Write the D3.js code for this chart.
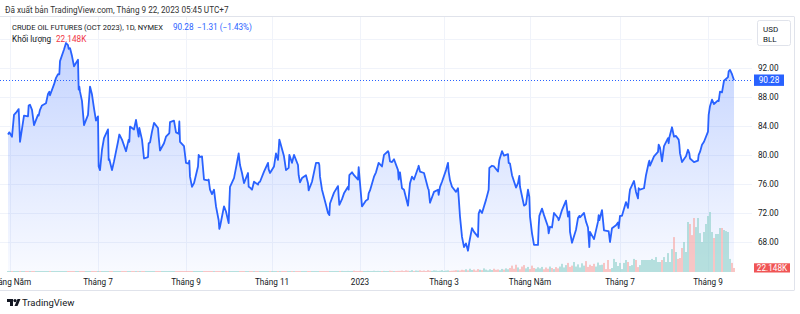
<!DOCTYPE html>
<html>
<head>
<meta charset="utf-8">
<script src="https://cdn.jsdelivr.net/npm/d3@7"></script>
<style>
  html, body { margin: 0; padding: 0; background: #fff; }
  svg { display: block; font-family: Roboto, "Noto Sans", sans-serif; }
</style>
</head>
<body>
<svg id="chart" width="800" height="314"></svg>
<script>
// CRUDE OIL FUTURES (OCT 2023), 1D, NYMEX
const startDay = new Date(2022, 3, 25)
const endDay = new Date(2023, 9, 3)

// days after startDay
const dayOffsets = [4,6,8,9,10,12,13,14,16,18,19,21,22,23,25,26,28,29,31,32,34,35,37,38,39,41,42,44,45,46,47,49,50,51,53,54,55,56,57,58,60,61,63,64,65,66,67,68,70,71,72,74,75,76,78,79,81,82,83,85,87,89,90,91,93,94,96,97,99,100,102,103,105,106,107,109,110,112,114,115,117,118,119,121,122,124,125,126,128,129,131,132,133,134,135,137,138,140,141,142,144,145,147,148,149,150,152,153,154,156,157,159,160,161,163,164,166,168,169,170,172,173,175,176,177,179,180,182,184,186,187,189,191,192,193,195,196,198,199,201,202,204,205,207,208,210,211,213,214,215,217,218,220,222,223,224,225,227,228,230,231,233,235,236,237,239,240,242,243,244,246,247,249,250,252,253,255,256,257,259,261,262,264,265,267,268,270,271,273,274,275,277,278,280,281,282,284,285,287,288,289,291,292,294,296,298,299,301,303,305,306,308,309,311,312,313,315,316,318,319,320,322,323,324,325,326,328,330,331,333,334,336,337,339,341,342,344,345,347,349,351,352,354,355,357,358,360,361,363,364,366,367,368,370,371,372,373,375,376,377,379,380,382,383,385,386,387,389,390,392,393,395,396,398,399,400,402,403,405,406,408,409,410,412,413,415,417,418,419,421,422,424,425,427,428,430,431,432,434,435,437,438,440,441,443,444,445,446,448,450,451,453,454,455,457,459,460,462,463,464,466,467,468,470,471,472,474,475,476,477,479,480,482,483,485,487,488,490,491,492,494,495,497,498,499,501,502,504,505,506,508,509,511,512,513]

const closes = [82.8,83.1,82.5,85.5,85.8,86.3,84.2,81.8,85.4,85.3,86.8,86.9,86.2,84.1,85.5,85.4,86.2,86.8,87.1,88.4,88.7,88.2,89.7,90.6,91.1,91.1,92.9,94.5,95.4,95.1,94.6,94.7,93.6,92.2,93.1,89.0,89.4,88.7,87.4,84.1,85.5,86.9,89.4,88.3,86.4,84.7,85.3,78.4,77.9,80.7,82.3,83.5,79.3,79.4,77.9,79.1,81.8,82.3,82.8,82.1,80.5,82.1,81.8,83.9,83.5,84.8,82.5,83.7,82.1,79.5,79.7,81.6,81.7,83.2,84.4,83.7,82.5,80.6,81.6,82.5,82.9,83.0,84.5,84.7,83.1,82.9,84.6,81.8,81.2,78.9,78.8,79.2,77.0,75.6,76.1,78.4,80.0,79.7,79.8,76.6,76.5,76.6,75.2,74.6,75.2,72.9,71.0,69.8,70.1,72.9,72.2,70.6,73.3,75.6,76.8,78.2,80.2,78.6,77.5,76.1,77.5,75.6,75.5,75.2,76.3,75.9,76.2,76.3,77.7,78.9,78.0,77.5,78.4,80.2,79.3,82.1,81.8,79.8,77.9,78.2,80.0,78.9,80.0,78.6,77.2,76.2,76.8,77.2,76.1,75.1,75.6,76.3,78.9,78.9,78.6,77.0,75.2,73.1,72.0,71.7,73.3,74.8,75.7,74.3,73.1,73.9,74.7,75.6,75.2,77.2,77.6,77.2,76.6,78.3,76.1,72.9,73.7,73.9,74.7,75.1,77.0,77.6,78.9,78.8,78.4,80.0,80.5,80.3,79.1,79.0,79.4,77.9,76.6,77.6,75.4,75.2,73.0,74.0,76.1,77.0,76.6,78.2,78.5,77.7,77.5,75.4,75.2,73.4,74.9,75.2,74.5,75.6,76.3,77.9,78.9,77.7,76.5,75.6,74.9,75.4,74.2,71.5,68.7,67.3,67.8,66.8,68.0,69.9,69.4,68.7,71.9,72.4,72.0,73.8,75.2,78.2,78.5,78.4,77.7,79.3,80.5,79.9,80.1,78.9,78.8,77.2,75.5,76.1,77.1,75.6,73.0,73.2,75.2,74.2,71.5,69.2,67.6,67.6,70.1,71.6,72.6,71.7,70.1,69.2,70.1,70.0,72.0,71.3,71.0,71.5,72.4,73.7,71.5,72.2,69.4,67.9,69.7,71.3,71.6,71.4,72.0,70.8,70.0,67.3,69.4,68.4,70.8,71.7,71.0,72.4,69.6,69.5,69.5,68.0,69.9,70.3,70.7,69.9,71.6,71.6,73.5,72.7,74.5,75.2,76.4,74.9,74.0,75.4,75.2,75.4,77.2,78.9,79.2,78.5,79.8,80.4,81.4,81.0,79.1,81.2,82.3,81.6,82.4,83.8,82.5,82.6,82.1,81.4,80.2,79.0,79.8,80.7,80.2,79.5,79.0,79.2,80.0,80.4,81.4,81.8,83.2,85.5,86.7,87.6,87.0,87.5,87.4,88.7,88.6,90.2,90.7,91.5,91.7,91.1,90.28]

// daily volume in K contracts, one per weekday from volumeStart
const volumeStart = new Date(2022, 3, 29)
const volumes = [
  3,4,2,3,5,3,4,2,3,4,3,5,2,4,3, 4,3,2,5,3,4,3,3,4,2,3,5,4,3,2,
  3,4,3,2,4,5,3,3,4,2,4,3,5,3,4, 2,3,4,3,5,4,2,3,3,4,3,2,4,5,3,
  4,3,3,2,4,3,5,4,3,2,3,4,3,4,2, 3,5,3,4,3,2,4,3,3,5,4,2,3,4,3,
  3,2,4,3,5,3,4,4,2,3,3,4,5,3,4, 2,3,4,3,3,5,2,4,3,4,3,3,4,2,5,
  3,4,3,2,4,3,3,5,4,3,2,4,3,4,3, 5,3,2,4,3,4,3,5,3,4,2,3,4,4,3,
  3,4,5,3,2,4,4,3,5,3,4,3,4,5,4,
  5,4,6,5,3,6,4,5,7,4,5,6,4,5,3,6,5,4,7,5,6,4,5,6,4,5,7,6,5,4,6,
  6,8,5,9,7,6,10,5,8,7,9,6,8,5,10,7,6,9,8,6,7,10,5,8,9,6,7,8,10,9,
  8,12,10,15,9,18,11,14,8,16,12,10,20,13,9,15,11,18,12,14,10,17,13,20,15,
  22,35,18,40,25,15,30,38,20,28,16,35,22,18,26,
  20,28,15,25,18,30,22,16,27,20,
  30,45,25,38,50,28,35,55,30,42,25,48,35,60,28,40,33,45,30,52,38,
  40,50,
  16,66,16,22,72,55,33,50,16,50,66,55,33,38,72,66,27,38,66,66,66,66,66,72,66,82,55,55,66,82,55,
  104,55,126,192,110,72,77,132,165,110,275,264,203,297,247,297,214,165,220,264,308,330,220,187,
  209,209,242,242,231,225,220,72,50,22.148
]

const priceTicks = [68, 72, 76, 80, 84, 88, 92, 96]
const monthLabels = ['Tháng Năm', 'Tháng 7', 'Tháng 9', 'Tháng 11', '2023', 'Tháng 3', 'Tháng Năm', 'Tháng 7', 'Tháng 9']
const lastClose = 90.28
const lastChange = '−1.31 (−1.43%)'
const lastVolume = '22.148K'

const plot = {left: 0, right: 752, top: 17, bottom: 272}
const blue = '#2962ff'

const svg = d3.select('#chart')

// weekday axis, like TradingView (no gaps for weekends)
const tradingDays = d3.timeDay.range(startDay, d3.timeDay.offset(endDay, 1))
	.filter(d => d.getDay() % 6 !== 0)

function tIndex(date) {
	const i = d3.bisectLeft(tradingDays, date)
	if (i < tradingDays.length && +tradingDays[i] === +date) return i
	return i - 1 + d3.timeDay.count(tradingDays[i - 1], date) / 3
}

const x = d3.scaleLinear()
	.domain([0, tradingDays.length - 1])
	.range([plot.left, plot.right])

const y = d3.scaleLinear()
	.domain([68, 92])
	.range([242, 67.7])

const yVol = d3.scaleLinear()
	.domain([0, 440])
	.range([plot.bottom, plot.bottom - 80])

const points = dayOffsets.map((o, k) => ({
	i: tIndex(d3.timeDay.offset(startDay, o)),
	p: closes[k]
}))

// gradient for the area
const grad = svg.append('defs').append('linearGradient')
	.attr('id', 'areaFill')
	.attr('gradientUnits', 'userSpaceOnUse')
	.attr('x1', 0).attr('y1', 40).attr('x2', 0).attr('y2', plot.bottom)
grad.append('stop').attr('offset', 0).attr('stop-color', blue).attr('stop-opacity', 0.28)
grad.append('stop').attr('offset', 1).attr('stop-color', blue).attr('stop-opacity', 0.03)

// grid
const monthStarts = d3.timeMonth.every(2).range(new Date(2022, 4, 1), endDay)
const monthIdx = monthStarts.map(d => d3.bisectLeft(tradingDays, d))

svg.append('g')
	.selectAll('line')
	.data(priceTicks)
	.join('line')
	.attr('x1', plot.left).attr('x2', plot.right)
	.attr('y1', d => Math.round(y(d)) + 0.5).attr('y2', d => Math.round(y(d)) + 0.5)
	.attr('stroke', '#f0f3fa')

svg.append('g')
	.selectAll('line')
	.data(monthIdx)
	.join('line')
	.attr('x1', d => Math.round(x(d)) + 0.5).attr('x2', d => Math.round(x(d)) + 0.5)
	.attr('y1', plot.top).attr('y2', plot.bottom)
	.attr('stroke', '#f0f3fa')

// area + line
svg.append('path')
	.datum(points)
	.attr('d', d3.area().x(d => x(d.i)).y0(plot.bottom).y1(d => y(d.p)))
	.attr('fill', 'url(#areaFill)')

// volume (bars are at least 1px tall, as on TradingView)
const volStartIdx = d3.bisectLeft(tradingDays, volumeStart)
const priceAt = d3.scaleLinear().domain(points.map(d => d.i)).range(points.map(d => d.p)).clamp(true)

svg.append('g')
	.selectAll('rect')
	.data(volumes)
	.join('rect')
	.attr('x', (d, k) => x(volStartIdx + k) - 0.65)
	.attr('width', 1.3)
	.attr('y', d => Math.min(yVol(d), plot.bottom - 1))
	.attr('height', d => Math.max(1, plot.bottom - yVol(d)))
	.attr('fill', (d, k) => {
		const i = volStartIdx + k
		return priceAt(i) >= priceAt(i - 1) ? '#92d2cc' : '#f7a9a7'
	})

svg.append('path')
	.datum(points)
	.attr('d', d3.line().x(d => x(d.i)).y(d => y(d.p)))
	.attr('fill', 'none')
	.attr('stroke', blue)
	.attr('stroke-width', 1.8)
	.attr('stroke-linejoin', 'round')

// last price dotted line
svg.append('line')
	.attr('x1', plot.left).attr('x2', plot.right)
	.attr('y1', Math.round(y(lastClose)) + 0.5).attr('y2', Math.round(y(lastClose)) + 0.5)
	.attr('stroke', blue)
	.attr('stroke-dasharray', '1,2')

// frame
svg.append('line').attr('x1', 0).attr('x2', 794).attr('y1', 16.5).attr('y2', 16.5).attr('stroke', '#e0e3eb')
svg.append('line').attr('x1', 0).attr('x2', 794).attr('y1', 290.5).attr('y2', 290.5).attr('stroke', '#e0e3eb')
svg.append('line').attr('x1', 794.5).attr('x2', 794.5).attr('y1', 16.5).attr('y2', 290.5).attr('stroke', '#e0e3eb')

// price scale labels
svg.append('g')
	.selectAll('text')
	.data(priceTicks.filter(d => d < 96))
	.join('text')
	.attr('x', 758)
	.attr('y', d => y(d) + 3)
	.attr('font-size', 8.2)
	.attr('fill', '#131722')
	.text(d => d.toFixed(2))

// USD / BLL box
svg.append('rect').attr('x', 757.5).attr('y', 20.5).attr('width', 33).attr('height', 25).attr('rx', 2)
	.attr('fill', '#fff').attr('stroke', '#e0e3eb')
svg.append('text').attr('x', 763).attr('y', 31.5).attr('font-size', 8).attr('fill', '#131722').text('USD')
svg.append('text').attr('x', 763).attr('y', 41.5).attr('font-size', 8).attr('fill', '#131722').text('BLL')

// last price + volume tags
const tagY = y(lastClose)
svg.append('rect').attr('x', 754).attr('y', tagY - 5.7).attr('width', 30).attr('height', 11.4).attr('fill', blue)
svg.append('text').attr('x', 769).attr('y', tagY + 3).attr('text-anchor', 'middle')
	.attr('font-size', 8.2).attr('fill', '#fff').text(lastClose.toFixed(2))
svg.append('rect').attr('x', 754).attr('y', 263.3).attr('width', 36).attr('height', 9.2).attr('fill', '#f05555')
svg.append('text').attr('x', 772).attr('y', 270.9).attr('text-anchor', 'middle')
	.attr('font-size', 8.2).attr('fill', '#fff').text(lastVolume)

// time axis labels
svg.append('g')
	.selectAll('text')
	.data(monthIdx)
	.join('text')
	.attr('x', d => x(d))
	.attr('y', 284.5)
	.attr('text-anchor', 'middle')
	.attr('font-size', 8.2)
	.attr('fill', '#131722')
	.text((d, k) => monthLabels[k])

// header texts
svg.append('text').attr('x', 5).attr('y', 13).attr('font-size', 8.2).attr('fill', '#333')
	.text('Đã xuất bản TradingView.com, Tháng 9 22, 2023 05:45 UTC+7')
svg.append('text').attr('x', 12).attr('y', 29.5).attr('font-size', 7.5).attr('fill', '#131722')
	.text('CRUDE OIL FUTURES (OCT 2023), 1D, NYMEX')
svg.append('text').attr('x', 173).attr('y', 29.5).attr('font-size', 8.2).attr('fill', blue)
	.text(lastClose.toFixed(2))
svg.append('text').attr('x', 197).attr('y', 29.5).attr('font-size', 8.2).attr('fill', blue)
	.text(lastChange)
svg.append('text').attr('x', 12).attr('y', 41.5).attr('font-size', 8.2).attr('fill', '#131722')
	.text('Khối lượng')
svg.append('text').attr('x', 56).attr('y', 41.5).attr('font-size', 8.2).attr('fill', '#f23645')
	.text(lastVolume)

// TradingView mark
const logo = svg.append('g').attr('transform', 'translate(7,299)').attr('fill', '#131722')
logo.append('path').attr('d', 'M0,0H6V7H3V3H0Z')
logo.append('circle').attr('cx', 8).attr('cy', 1.6).attr('r', 1.6)
logo.append('path').attr('d', 'M10.5,0H13.5L10.5,7H7.5Z')
svg.append('text').attr('x', 22).attr('y', 306).attr('font-size', 9.5).attr('fill', '#131722')
	.text('TradingView')
</script>
</body>
</html>
